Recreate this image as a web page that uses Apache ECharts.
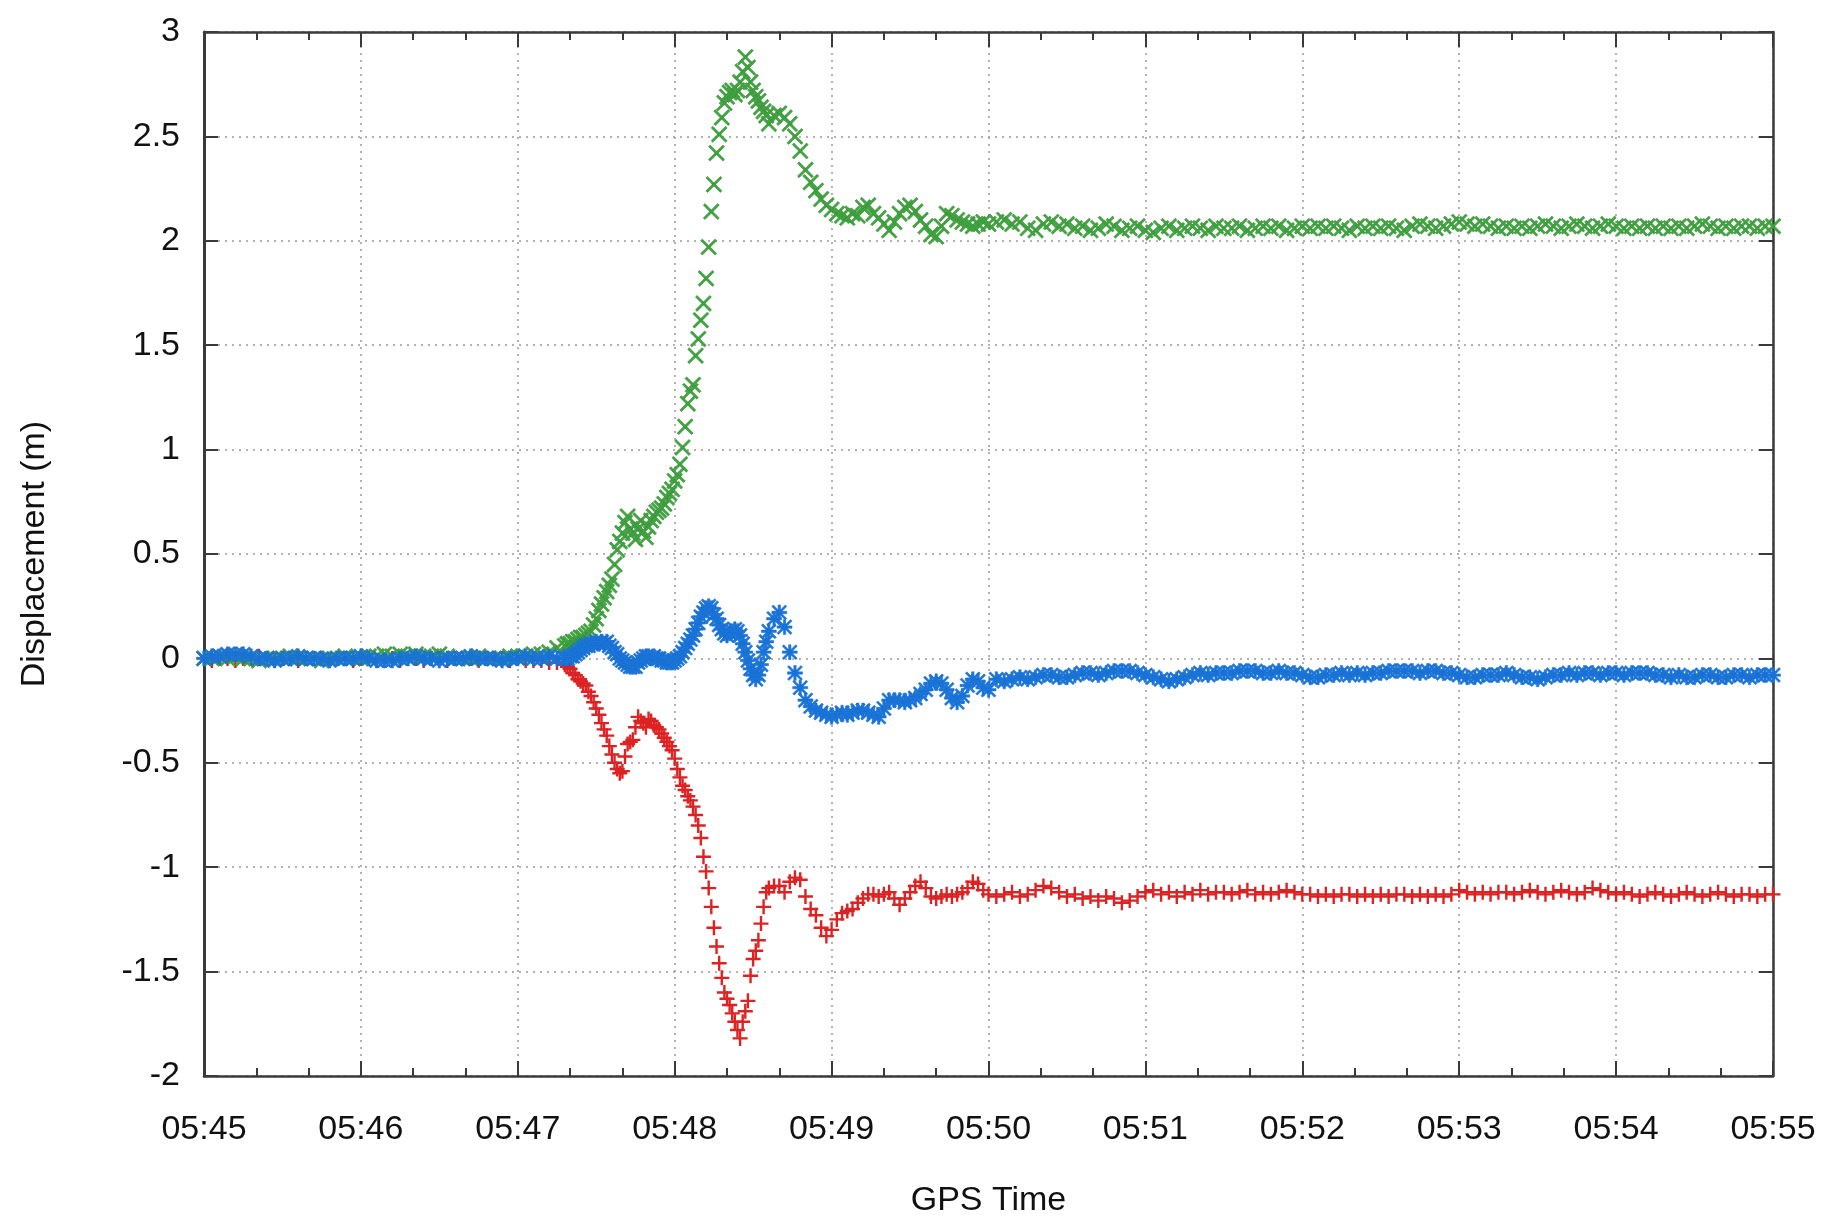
<!DOCTYPE html>
<html>
<head>
<meta charset="utf-8">
<style>
  html, body { margin: 0; padding: 0; background: #fff; }
  #chart { width: 1831px; height: 1223px; }
</style>
<script src="https://cdn.jsdelivr.net/npm/echarts@6/dist/echarts.min.js"></script>
</head>
<body>
<div id="chart"></div>
<script>
// x tick labels (one per minute, 05:45 .. 05:55)
const timeLabels = ['05:45','05:46','05:47','05:48','05:49','05:50','05:51','05:52','05:53','05:54','05:55'];

// sample times, seconds after 05:45:00
const timeSec = [
  0,3,6,9,12,15,18,21,24,27,30,33,36,39,42,45,48,51,54,57,60,63,66,69,72,75,78,81,84,87,90,93,96,99,102,105,108,111,114,117,120,123,126,129,132,135,138,
  139,140,141,142,143,144,145,146,147,148,149,150,151,152,153,154,155,156,157,158,159,160,161,162,163,164,165,166,167,168,169,170,171,172,173,174,175,176,177,178,
  179,180,181,182,183,184,185,186,187,188,189,190,191,192,193,194,195,196,197,198,199,200,201,202,203,204,205,206,207,208,209,210,211,212,213,214,215,
  216,218,220,222,224,226,228,230,232,234,236,238,240,242,244,246,248,250,252,254,256,258,260,262,264,266,268,270,272,274,276,278,280,282,284,286,288,290,292,294,296,298,300,
  303,306,309,312,315,318,321,324,327,330,333,336,339,342,345,348,351,354,357,360,363,366,369,372,375,378,381,384,387,390,393,396,399,402,405,408,411,414,417,420,
  423,426,429,432,435,438,441,444,447,450,453,456,459,462,465,468,471,474,477,480,483,486,489,492,495,498,501,504,507,510,513,516,519,522,525,528,531,534,537,540,
  543,546,549,552,555,558,561,564,567,570,573,576,579,582,585,588,591,594,597,600
];

// red "+" series (m)
const redDisp = [
  0.00,-0.01,0.00,0.00,-0.01,0.00,0.00,0.01,0.00,-0.01,
  0.00,0.00,-0.01,0.00,0.00,0.00,-0.01,0.00,0.00,-0.01,
  0.00,0.00,-0.01,-0.01,0.00,-0.01,0.00,0.00,-0.01,0.00,
  0.00,-0.01,0.00,0.00,0.00,-0.01,0.00,0.00,0.00,-0.01,
  0.00,-0.01,-0.01,-0.01,-0.02,-0.02,-0.03,
  -0.04,-0.05,-0.07,-0.08,-0.10,-0.11,-0.12,-0.13,-0.16,-0.18,
  -0.21,-0.24,-0.27,-0.31,-0.34,-0.37,-0.42,-0.46,-0.50,-0.53,
  -0.55,-0.54,-0.47,-0.41,-0.40,-0.39,-0.33,-0.28,-0.30,-0.31,
  -0.33,-0.29,-0.30,-0.32,-0.33,-0.34,-0.36,-0.38,-0.40,-0.42,
  -0.44,-0.48,-0.53,-0.57,-0.61,-0.63,-0.66,-0.68,-0.71,-0.75,
  -0.80,-0.86,-0.95,-1.02,-1.10,-1.19,-1.29,-1.38,-1.46,-1.53,
  -1.60,-1.63,-1.66,-1.70,-1.74,-1.78,-1.82,-1.74,-1.69,-1.64,
  -1.52,-1.44,-1.40,-1.35,-1.27,-1.19,-1.12,
  -1.10,-1.09,-1.09,-1.12,-1.07,-1.05,-1.06,-1.14,-1.20,-1.23,
  -1.29,-1.33,-1.30,-1.25,-1.22,-1.21,-1.20,-1.17,-1.15,-1.13,
  -1.13,-1.14,-1.13,-1.12,-1.15,-1.18,-1.15,-1.12,-1.09,-1.07,
  -1.10,-1.14,-1.15,-1.14,-1.13,-1.14,-1.13,-1.12,-1.10,-1.07,
  -1.08,-1.11,-1.13,
  -1.14,-1.13,-1.12,-1.14,-1.13,-1.11,-1.09,-1.10,-1.12,-1.14,
  -1.13,-1.15,-1.14,-1.16,-1.14,-1.15,-1.17,-1.16,-1.14,-1.12,
  -1.11,-1.13,-1.12,-1.14,-1.12,-1.13,-1.11,-1.13,-1.12,-1.12,
  -1.13,-1.12,-1.11,-1.13,-1.12,-1.13,-1.12,-1.11,-1.12,-1.13,
  -1.13,-1.14,-1.13,-1.14,-1.13,-1.13,-1.14,-1.13,-1.14,-1.13,
  -1.14,-1.13,-1.13,-1.14,-1.13,-1.14,-1.13,-1.14,-1.13,-1.11,
  -1.12,-1.13,-1.12,-1.13,-1.12,-1.12,-1.13,-1.12,-1.11,-1.12,
  -1.13,-1.12,-1.11,-1.12,-1.13,-1.12,-1.10,-1.11,-1.12,-1.13,
  -1.12,-1.13,-1.14,-1.13,-1.12,-1.13,-1.14,-1.13,-1.12,-1.13,
  -1.14,-1.13,-1.12,-1.13,-1.14,-1.13,-1.13,-1.14,-1.13,-1.13
];

// green "x" series (m)
const greenDisp = [
  0.00,0.00,0.01,0.00,0.01,0.00,0.00,-0.01,0.00,0.00,
  0.00,0.01,0.00,0.00,0.00,-0.01,0.00,0.00,0.01,0.00,
  0.00,0.01,0.01,0.02,0.01,0.02,0.01,0.02,0.01,0.01,
  0.02,0.01,0.00,0.00,0.00,0.01,0.00,0.00,0.00,0.01,
  0.01,0.01,0.02,0.02,0.03,0.05,0.06,
  0.07,0.07,0.08,0.08,0.09,0.10,0.10,0.11,0.12,0.13,
  0.16,0.19,0.23,0.26,0.29,0.32,0.35,0.38,0.45,0.52,
  0.56,0.60,0.65,0.68,0.62,0.60,0.57,0.62,0.66,0.61,
  0.58,0.63,0.66,0.68,0.70,0.71,0.72,0.74,0.77,0.79,
  0.81,0.85,0.88,0.93,1.01,1.11,1.22,1.28,1.31,1.45,
  1.53,1.62,1.70,1.82,1.97,2.14,2.27,2.42,2.51,2.59,
  2.66,2.69,2.71,2.72,2.70,2.72,2.76,2.81,2.88,2.83,
  2.76,2.72,2.69,2.67,2.64,2.62,2.60,
  2.56,2.60,2.61,2.59,2.56,2.50,2.43,2.34,2.28,2.24,
  2.20,2.17,2.15,2.13,2.12,2.11,2.13,2.12,2.16,2.17,
  2.13,2.11,2.08,2.05,2.09,2.13,2.16,2.17,2.14,2.10,
  2.07,2.03,2.02,2.07,2.13,2.12,2.10,2.09,2.08,2.07,
  2.08,2.09,2.08,
  2.09,2.10,2.08,2.09,2.06,2.05,2.08,2.09,2.07,2.08,
  2.06,2.07,2.05,2.06,2.08,2.07,2.05,2.06,2.07,2.05,
  2.04,2.06,2.07,2.05,2.06,2.07,2.06,2.05,2.07,2.06,
  2.06,2.07,2.05,2.06,2.07,2.06,2.07,2.05,2.06,2.07,
  2.06,2.07,2.06,2.07,2.06,2.05,2.07,2.06,2.07,2.06,
  2.07,2.06,2.05,2.07,2.08,2.07,2.06,2.07,2.08,2.09,
  2.08,2.07,2.08,2.07,2.06,2.07,2.06,2.07,2.06,2.07,
  2.08,2.07,2.06,2.07,2.08,2.07,2.06,2.07,2.08,2.07,
  2.06,2.07,2.06,2.07,2.06,2.07,2.06,2.07,2.06,2.07,
  2.08,2.07,2.06,2.07,2.06,2.07,2.07,2.06,2.07,2.07
];

// blue "*" series (m)
const blueDisp = [
  0.00,0.01,0.01,0.02,0.02,0.02,0.01,0.00,0.00,-0.01,
  0.00,0.00,0.01,0.00,0.00,0.00,-0.01,0.00,0.00,0.00,
  0.01,0.00,-0.01,-0.01,-0.01,0.00,0.00,0.01,0.00,0.00,
  -0.01,0.00,0.00,0.00,0.01,0.00,0.00,0.00,-0.01,0.00,
  0.00,0.01,0.00,0.00,0.01,0.00,0.00,
  0.00,0.01,0.01,0.02,0.03,0.04,0.05,0.06,0.06,0.07,
  0.07,0.08,0.07,0.08,0.07,0.08,0.06,0.05,0.03,0.02,
  0.00,-0.01,-0.02,-0.03,-0.04,-0.04,-0.04,-0.02,-0.01,0.00,
  0.01,0.01,0.00,0.01,0.00,0.00,-0.01,-0.01,-0.02,-0.02,
  -0.02,-0.01,0.00,0.01,0.03,0.05,0.07,0.09,0.11,0.14,
  0.17,0.20,0.22,0.24,0.25,0.24,0.21,0.19,0.16,0.14,
  0.12,0.11,0.12,0.13,0.14,0.13,0.11,0.07,0.03,-0.01,
  -0.05,-0.08,-0.10,-0.08,-0.03,0.03,0.08,
  0.13,0.19,0.22,0.15,0.03,-0.07,-0.14,-0.20,-0.23,-0.25,
  -0.26,-0.27,-0.28,-0.27,-0.26,-0.27,-0.26,-0.25,-0.25,-0.26,
  -0.27,-0.28,-0.24,-0.20,-0.20,-0.20,-0.21,-0.20,-0.19,-0.17,
  -0.15,-0.12,-0.11,-0.12,-0.15,-0.19,-0.21,-0.18,-0.13,-0.10,
  -0.11,-0.14,-0.15,
  -0.10,-0.11,-0.10,-0.09,-0.10,-0.09,-0.08,-0.08,-0.09,-0.09,
  -0.08,-0.07,-0.07,-0.08,-0.07,-0.06,-0.06,-0.06,-0.07,-0.08,
  -0.09,-0.10,-0.11,-0.10,-0.09,-0.08,-0.07,-0.08,-0.07,-0.07,
  -0.07,-0.06,-0.06,-0.06,-0.07,-0.07,-0.06,-0.07,-0.07,-0.08,
  -0.09,-0.09,-0.08,-0.08,-0.07,-0.08,-0.07,-0.08,-0.07,-0.07,
  -0.06,-0.06,-0.06,-0.06,-0.07,-0.06,-0.06,-0.07,-0.07,-0.08,
  -0.09,-0.09,-0.08,-0.08,-0.08,-0.07,-0.08,-0.09,-0.09,-0.10,
  -0.09,-0.08,-0.08,-0.07,-0.08,-0.07,-0.07,-0.08,-0.07,-0.07,
  -0.08,-0.07,-0.07,-0.07,-0.08,-0.08,-0.09,-0.08,-0.09,-0.09,
  -0.08,-0.08,-0.09,-0.09,-0.08,-0.08,-0.09,-0.08,-0.08,-0.08
];

const yTicks = { min: -2, max: 3, step: 0.5 };

// marker shapes
const X_PATH = 'M0,1L1,0L10,9L9,10Z M9,0L10,1L1,10L0,9Z';
const PLUS_PATH = 'M4.2,0H5.8V4.2H10V5.8H5.8V10H4.2V5.8H0V4.2H4.2Z';
const SYM_X = 'path://' + X_PATH;
const SYM_PLUS = 'path://' + PLUS_PATH;
const SYM_STAR = 'path://' + PLUS_PATH + ' ' + X_PATH;

function pairs(vals) { return timeSec.map((t, i) => [t, vals[i]]); }

const FONT = '"Liberation Sans", Arial, sans-serif';
const chart = echarts.init(document.getElementById('chart'), null, { renderer: 'canvas' });

const axisLineStyle = { color: '#3a3a3a', width: 2.5 };
const option = {
  animation: false,
  backgroundColor: '#ffffff',
  grid: { left: 204, right: 58, top: 32, bottom: 146, containLabel: false },
  xAxis: [
    {
      type: 'value', min: 0, max: 600, interval: 60, position: 'bottom',
      name: 'GPS Time', nameLocation: 'middle', nameGap: 108,
      nameTextStyle: { fontFamily: FONT, fontSize: 34, color: '#111' },
      axisLine: { show: true, onZero: false, lineStyle: axisLineStyle },
      axisTick: { show: true, inside: true, length: 15, lineStyle: { color: '#3a3a3a', width: 2 } },
      minorTick: { show: true, splitNumber: 3, length: 8, lineStyle: { color: '#3a3a3a', width: 2 } },
      axisLabel: {
        margin: 37, fontFamily: FONT, fontSize: 34, color: '#111',
        formatter: v => timeLabels[Math.round(v / 60)]
      },
      splitLine: { show: true, lineStyle: { color: '#999', width: 1.5, type: [2, 5] } }
    },
    {
      type: 'value', min: 0, max: 600, interval: 60, position: 'top',
      axisLine: { show: true, onZero: false, lineStyle: axisLineStyle },
      axisTick: { show: true, inside: true, length: 15, lineStyle: { color: '#3a3a3a', width: 2 } },
      minorTick: { show: true, splitNumber: 3, length: 8, lineStyle: { color: '#3a3a3a', width: 2 } },
      axisLabel: { show: false },
      splitLine: { show: false }
    }
  ],
  yAxis: [
    {
      type: 'value', min: yTicks.min, max: yTicks.max, interval: yTicks.step, position: 'left',
      name: 'Displacement (m)', nameLocation: 'middle', nameGap: 152,
      nameTextStyle: { fontFamily: FONT, fontSize: 34, color: '#111' },
      axisLine: { show: true, onZero: false, lineStyle: { color: '#3a3a3a', width: 3 } },
      axisTick: { show: true, inside: true, length: 14, lineStyle: { color: '#3a3a3a', width: 2 } },
      axisLabel: { margin: 24, fontFamily: FONT, fontSize: 34, color: '#111' },
      splitLine: { show: true, lineStyle: { color: '#999', width: 1.5, type: [2, 5] } }
    },
    {
      type: 'value', min: yTicks.min, max: yTicks.max, interval: yTicks.step, position: 'right',
      axisLine: { show: true, onZero: false, lineStyle: axisLineStyle },
      axisTick: { show: true, inside: true, length: 14, lineStyle: { color: '#3a3a3a', width: 2 } },
      axisLabel: { show: false },
      splitLine: { show: false }
    }
  ],
  series: [
    {
      name: 'red', type: 'scatter', data: pairs(redDisp),
      symbol: SYM_PLUS, symbolSize: 15,
      itemStyle: { color: '#dc2222', opacity: 1 }
    },
    {
      name: 'green', type: 'scatter', data: pairs(greenDisp),
      symbol: SYM_X, symbolSize: 16,
      itemStyle: { color: '#34b034', borderColor: '#4f7a4f', borderWidth: 0.6, opacity: 1 }
    },
    {
      name: 'blue', type: 'scatter', data: pairs(blueDisp),
      symbol: SYM_STAR, symbolSize: 15,
      itemStyle: { color: '#1a78dc', borderColor: '#1a6acc', borderWidth: 0.5, opacity: 1 }
    }
  ]
};
chart.setOption(option);
</script>
</body>
</html>
